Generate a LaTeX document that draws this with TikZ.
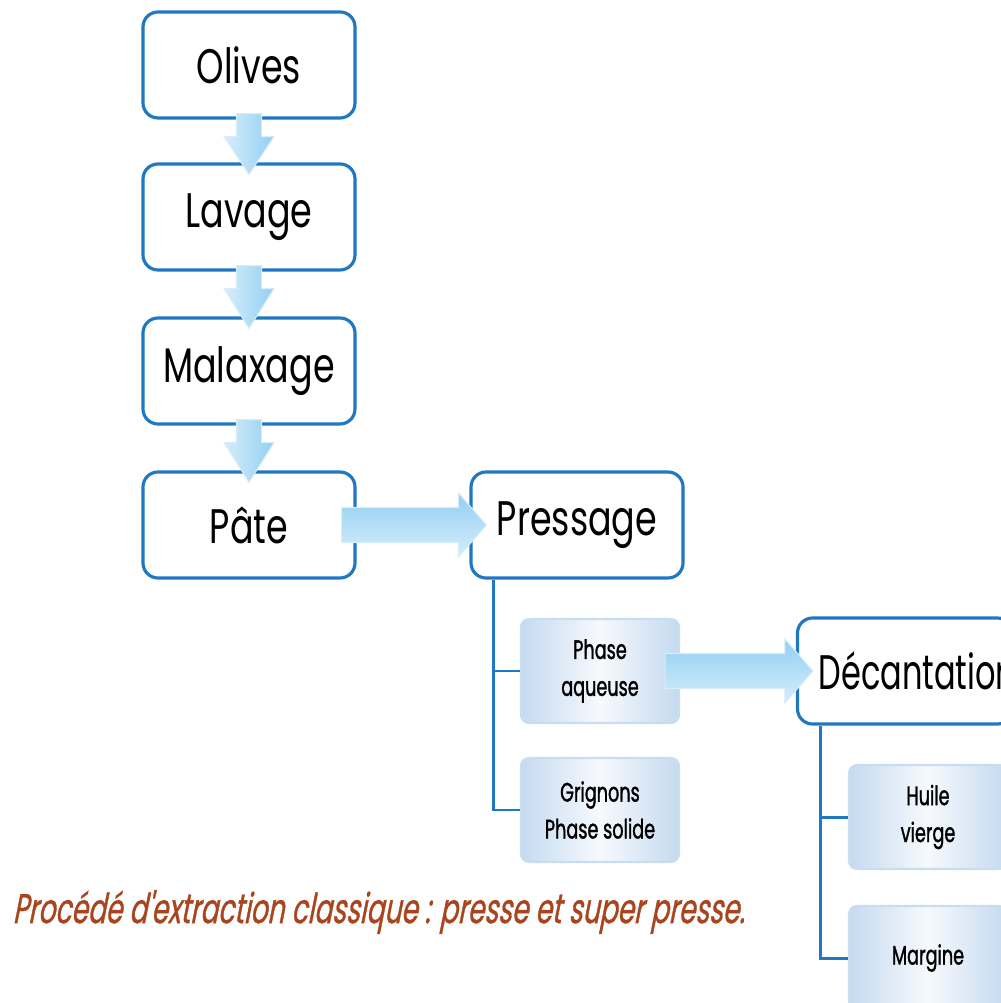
\documentclass[tikz,border=0pt]{standalone}
\usepackage{fontspec}
\setmainfont{Poppins}[FakeStretch=0.72]
\newfontfamily\narrowfont{Poppins}[FakeStretch=0.66]
\newfontfamily\smallfont{Poppins}[FakeStretch=0.66,FakeBold=1.2]
\newfontfamily\legendfont{Poppins}[FakeStretch=0.64,FakeSlant=0.2,FakeBold=0.8]
\usetikzlibrary{calc,positioning,shadings}
\definecolor{boxblue}{RGB}{31,120,193}
\definecolor{pale}{RGB}{197,218,240}
\definecolor{flowlight}{RGB}{214,237,251}
\definecolor{flowdark}{RGB}{146,207,242}
\definecolor{rust}{RGB}{168,68,30}

\begin{document}
\begin{tikzpicture}[node distance=1.5cm, on grid,
    stepbox/.style={draw=boxblue, line width=0.9pt, rounded corners=0.15cm, fill=white,
        minimum width=2.12cm, minimum height=1.06cm, font=\fontsize{13.8}{16}\selectfont},
    phasebox/.style={draw=pale!80!boxblue!60, line width=0.6pt, rounded corners=0.08cm,
        left color=pale, right color=pale, middle color=white!85!pale,
        minimum width=1.58cm, minimum height=1.04cm, align=center,
        font=\smallfont\fontsize{7.6}{10.5}\selectfont},
    vflow/.style={left color=flowlight, right color=flowdark, draw=flowlight, line width=0.3pt},
    hflow/.style={top color=flowdark, bottom color=flowlight, draw=flowlight, line width=0.3pt},
    tree/.style={draw=boxblue, line width=0.85pt}]
    \useasboundingbox (0,0) rectangle (10,-10.03);
        \node[stepbox]      (olives)   at (2.49,-0.65)                   {Olives};
        \node[stepbox]      (lavage)      [below=1.52cm of olives]       {Lavage};
        \node[stepbox]      (malaxage)    [below=1.54cm of lavage]       {Malaxage};
        \node[stepbox]      (pate)        [below=1.54cm of malaxage]     {Pâte};
        \node[stepbox]      (pressage)    [right=3.28cm of pate]         {Pressage};
        \node[phasebox]     (aqueuse)     [below right=1.46cm and 0.23cm of pressage] {Phase\\aqueuse};
        \node[phasebox]     (grignons)    [below=1.39cm of aqueuse]      {Grignons\\Phase solide};
        \node[stepbox, inner xsep=0.21cm, text width=1.73cm, align=left,
              font=\narrowfont\fontsize{13.8}{16}\selectfont]
                            (decantation) [right=3.05cm of aqueuse]      {Décantation};
        \node[phasebox]     (huile)       [below right=1.46cm and 0.23cm of decantation] {Huile\\vierge};
        \node[phasebox]     (margine)     [below=1.41cm of huile]        {Margine};
        \node[anchor=west, inner xsep=0pt, text=rust, font=\legendfont\fontsize{11.8}{14}\selectfont]
            (legende) at (0.12,-9.12) {Procédé d'extraction classique : presse et super presse.};
    % fleches verticales
    \foreach \a/\b in {olives/lavage, lavage/malaxage, malaxage/pate}
        \path[vflow] ($(\a.south)+(-0.125,0.06)$) -- ($(\a.south)+(-0.125,-0.17)$)
            -- ($(\a.south)+(-0.25,-0.17)$) -- ($(\b.north)+(0,-0.12)$)
            -- ($(\a.south)+(0.25,-0.17)$) -- ($(\a.south)+(0.125,-0.17)$)
            -- ($(\a.south)+(0.125,0.06)$) -- cycle;
    % fleches horizontales
    \foreach \a/\b in {pate/pressage, aqueuse/decantation}
        \path[hflow] ($(\a.east)+(-0.15,0.175)$) -- ($(\b.west |- \a.east)+(-0.11,0.175)$)
            -- ($(\b.west |- \a.east)+(-0.11,0.32)$) -- ($(\b.west |- \a.east)+(0.17,0)$)
            -- ($(\b.west |- \a.east)+(-0.11,-0.32)$) -- ($(\b.west |- \a.east)+(-0.11,-0.175)$)
            -- ($(\a.east)+(-0.15,-0.175)$) -- cycle;
    % branches
    \draw[tree] ($(pressage.south west)+(0.24,0)$) |- (aqueuse.west);
    \draw[tree] ($(pressage.south west)+(0.24,0)$) |- (grignons.west);
    \draw[tree] ($(decantation.south west)+(0.25,0)$) |- (huile.west);
    \draw[tree] ($(decantation.south west)+(0.25,0)$) |- (margine.west);
\end{tikzpicture}
\end{document}
